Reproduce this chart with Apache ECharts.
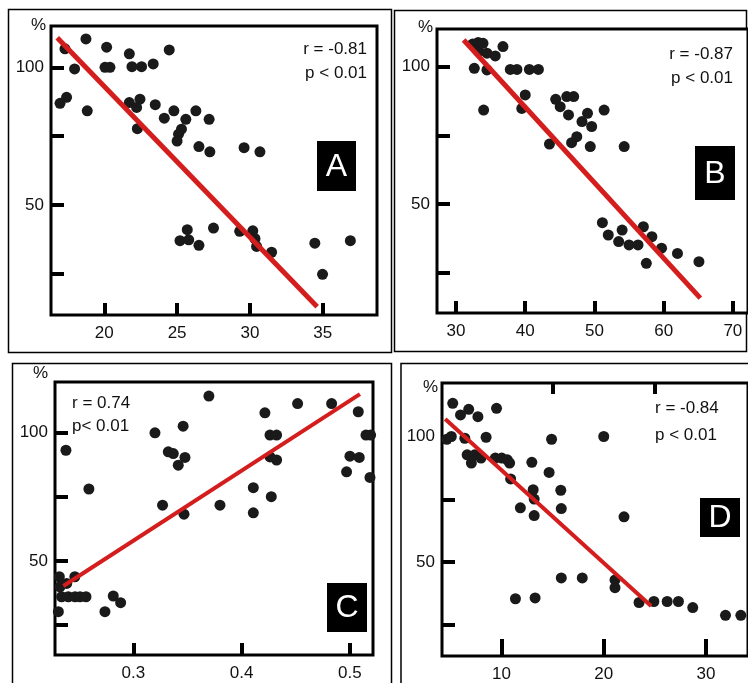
<!DOCTYPE html>
<html>
<head>
<meta charset="utf-8">
<script src="https://cdn.jsdelivr.net/npm/echarts@6/dist/echarts.min.js"></script>
<style>
  html, body { margin: 0; padding: 0; background: #fff; }
  #chart { width: 748px; height: 683px; }
</style>
</head>
<body>
<div id="chart"></div>
<script>
// ---- data ----
var ptsA = [[17.3,106.7],[18.74,110.3],[17.96,99.4],[16.96,86.9],[17.41,89.1],[18.83,84.2],[20.16,107.3],[20.05,100],[20.39,100],
  [21.72,104.9],[21.9,100.2],[22.56,100.2],[23.36,101.2],[24.46,106.3],[21.72,87.2],[22.45,88.4],[22.22,85.4],[22.27,77.7],
  [23.5,86.4],[24.12,81.5],[24.78,84.2],[25.6,81.1],[26.29,84.2],[27.2,81.1],[25.3,77.5],[25.1,75.7],[25.0,73.2],[26.5,71.2],
  [27.25,69.3],[29.6,70.8],[30.69,69.3],[25.2,37.0],[25.7,41.0],[25.8,37.3],[26.5,35.3],[27.5,41.6],[29.3,40.4],[30.2,40.6],
  [30.35,37.7],[30.46,34.9],[31.49,32.8],[34.46,36.1],[34.99,24.8],[36.9,37.0]];
var lineA = [[16.77,110.7],[34.62,13.0]];

var ptsB = [[32.4,108.2],[33.2,108.8],[33.9,108.5],[33.3,105.5],[34.47,104.9],[35.67,103.9],[36.78,107.3],[32.64,99.4],[34.47,98.8],
  [33.99,84.2],[37.84,99],[38.8,99],[40.6,99],[41.9,99],[40.0,89.7],[39.5,84.8],[44.4,88.1],[45.05,85.4],[46.0,89.1],[47.0,89.1],
  [46.25,82.4],[43.5,71.8],[46.7,72.3],[47.45,74.5],[48.2,80.0],[49.0,83.0],[49.6,78.2],[49.4,70.9],[51.4,84.2],[54.3,70.9],
  [51.15,43.2],[52.0,38.7],[53.5,36.3],[54.0,40.5],[55.0,35.1],[56.3,35.1],[57.07,41.7],[58.3,38.1],[57.5,28.4],[59.7,33.9],
  [62.0,32.0],[65.1,29.0]];
var lineB = [[31.1,109.7],[65.3,15.7]];

var ptsC = [[0.2378,93.2],[0.259,78.1],[0.2317,43.9],[0.2323,40],[0.2308,30.3],[0.2338,36.1],[0.240,36.1],[0.2462,36.1],
  [0.2508,36.1],[0.2563,36.1],[0.246,43.9],[0.2385,41.3],[0.2738,30.3],[0.2815,36.4],[0.2883,33.8],[0.32,100],[0.327,71.8],
  [0.3323,92.6],[0.3369,91.9],[0.3415,87.4],[0.3477,90.4],[0.346,102.6],[0.3468,68.3],[0.3698,114.3],[0.38,71.8],[0.4108,78.6],
  [0.4108,68.8],[0.4215,107.8],[0.4262,99.1],[0.4323,99.1],[0.4262,90.6],[0.4323,89.4],[0.4274,75.1],[0.4517,111.4],
  [0.4831,111.4],[0.5077,108.2],[0.5,90.9],[0.5086,90.4],[0.4969,84.8],[0.5148,99.1],[0.5191,99.1],[0.5185,82.6]];
var lineC = [[0.2354,40.3],[0.5092,115.1]];

var ptsD = [[5.24,113.2],[6.0,108.6],[6.8,110.8],[7.7,107.9],[9.52,111.2],[4.66,98.9],[5.1,100],[6.42,99.3],[6.65,92.7],
  [7.06,89.4],[7.38,92.7],[8.0,91.4],[8.5,99.7],[9.4,91.4],[10.03,91.4],[10.58,90.7],[10.8,89.4],[10.9,83.1],[11.85,71.6],
  [12.97,89.7],[13.1,78.8],[13.2,75.1],[13.2,68.5],[14.66,85.7],[14.9,98.9],[15.8,78.6],[15.85,71.3],[15.85,43.7],[17.9,43.7],
  [20.0,100],[21.98,68],[21.1,42.9],[21.1,39.8],[11.37,35.4],[13.29,35.7],[23.45,33.9],[24.9,34.3],[26.2,34.3],[27.3,34.3],
  [28.7,31.9],[31.9,28.8],[33.4,28.8]];
var lineD = [[4.5,107],[24.63,32.5]];

var yTicks = [25, 50, 75, 100];
var yLabels = [50, 100];
var xTicksA = [20, 25, 30, 35];
var xTicksB = [30, 40, 50, 60, 70];
var xTicksC = [0.3, 0.4, 0.5];
var xTicksD = [10, 20, 30];
var xMinorD = [15, 25];

var font = 'Liberation Sans, Arial, sans-serif';
var myChart = echarts.init(document.getElementById('chart'));

function xAx(grid, min, max, ticks, len, showLabel) {
    return {
        type: 'value', gridIndex: grid, min: min, max: max,
        axisLine: { show: false },
        splitLine: { show: false },
        axisTick: { show: true, inside: true, length: len, customValues: ticks,
            lineStyle: { color: '#000', width: 4 } },
        axisLabel: { show: showLabel, customValues: ticks, margin: 10, color: '#111',
            fontSize: 17, fontFamily: font }
    };
}
function yAx(grid, min, max) {
    return {
        type: 'value', gridIndex: grid, min: min, max: max,
        axisLine: { show: false },
        splitLine: { show: false },
        axisTick: { show: true, inside: true, length: 13, customValues: yTicks,
            lineStyle: { color: '#000', width: 4 } },
        axisLabel: { customValues: yLabels, margin: 7, color: '#111', fontSize: 17, fontFamily: font }
    };
}
function gridBox(l, t, w, h) {
    return { left: l, top: t, width: w, height: h, show: true, borderColor: '#000', borderWidth: 3,
        backgroundColor: '#fff' };
}
function dots(i, data) {
    return { type: 'scatter', xAxisIndex: i, yAxisIndex: i, data: data, symbolSize: 11,
        itemStyle: { color: '#1a1a1a', opacity: 1 }, silent: true };
}
function fit(i, data, w) {
    return { type: 'line', xAxisIndex: i, yAxisIndex: i, data: data, symbol: 'none', silent: true,
        lineStyle: { color: '#d41d1d', width: w }, z: 3 };
}
function txt(x, y, s, align, size, color) {
    return { type: 'text', x: x, y: y, z: 10,
        style: { text: s, fill: color || '#111', font: (size || 17) + 'px ' + font,
            textAlign: align || 'left', textVerticalAlign: 'middle' } };
}
function box(x, y, w, h, letter) {
    return [
        { type: 'rect', z: 10, shape: { x: x, y: y, width: w, height: h }, style: { fill: '#000' } },
        txt(x + w / 2, y + h / 2 + 1, letter, 'center', 32, '#fff')
    ];
}
function frame(x, y, w, h) {
    return { type: 'rect', z: -1, shape: { x: x, y: y, width: w, height: h },
        style: { fill: 'none', stroke: '#000', lineWidth: 1.5 } };
}

var graphics = [
    frame(8.5, 9.5, 383, 343), frame(394.5, 10.5, 352, 341), frame(12.5, 363.5, 379, 330), frame(401, 363.5, 350, 330),
    txt(31, 25, '%'), txt(418, 27, '%'), txt(33, 373, '%'), txt(423, 387, '%'),
    txt(367, 49, 'r = -0.81', 'right'), txt(367, 73, 'p < 0.01', 'right'),
    txt(733, 54, 'r = -0.87', 'right'), txt(733, 78, 'p < 0.01', 'right'),
    txt(72, 403, 'r = 0.74'), txt(72, 426, 'p< 0.01'),
    txt(655, 408, 'r = -0.84'), txt(655, 435, 'p < 0.01')
].concat(box(317, 141, 39, 50, 'A'), box(695, 146, 40, 54, 'B'), box(327, 583, 40, 49, 'C'), box(700, 498, 40, 39, 'D'));

option = {
    backgroundColor: '#fff',
    animation: false,
    grid: [gridBox(51, 26, 326, 289), gridBox(437, 29, 311, 284), gridBox(55, 382, 318, 273), gridBox(442, 383, 312, 274)],
    xAxis: [
        xAx(0, 16.34, 38.73, xTicksA, 12, true),
        xAx(1, 27.25, 72.19, xTicksB, 12, true),
        xAx(2, 0.2277, 0.5213, xTicksC, 12, true),
        xAx(3, 4.19, 34.1, xTicksD, 17, true),
        xAx(3, 4.19, 34.1, xMinorD, 11, false)
    ],
    yAxis: [yAx(0, 10, 115), yAx(1, 10.3, 113.7), yAx(2, 13.4, 119.8), yAx(3, 12.6, 121.3)],
    series: [
        dots(0, ptsA), fit(0, lineA, 5),
        dots(1, ptsB), fit(1, lineB, 5),
        dots(2, ptsC), fit(2, lineC, 4),
        dots(3, ptsD), fit(3, lineD, 4)
    ],
    graphic: graphics
};
myChart.setOption(option);
</script>
</body>
</html>
